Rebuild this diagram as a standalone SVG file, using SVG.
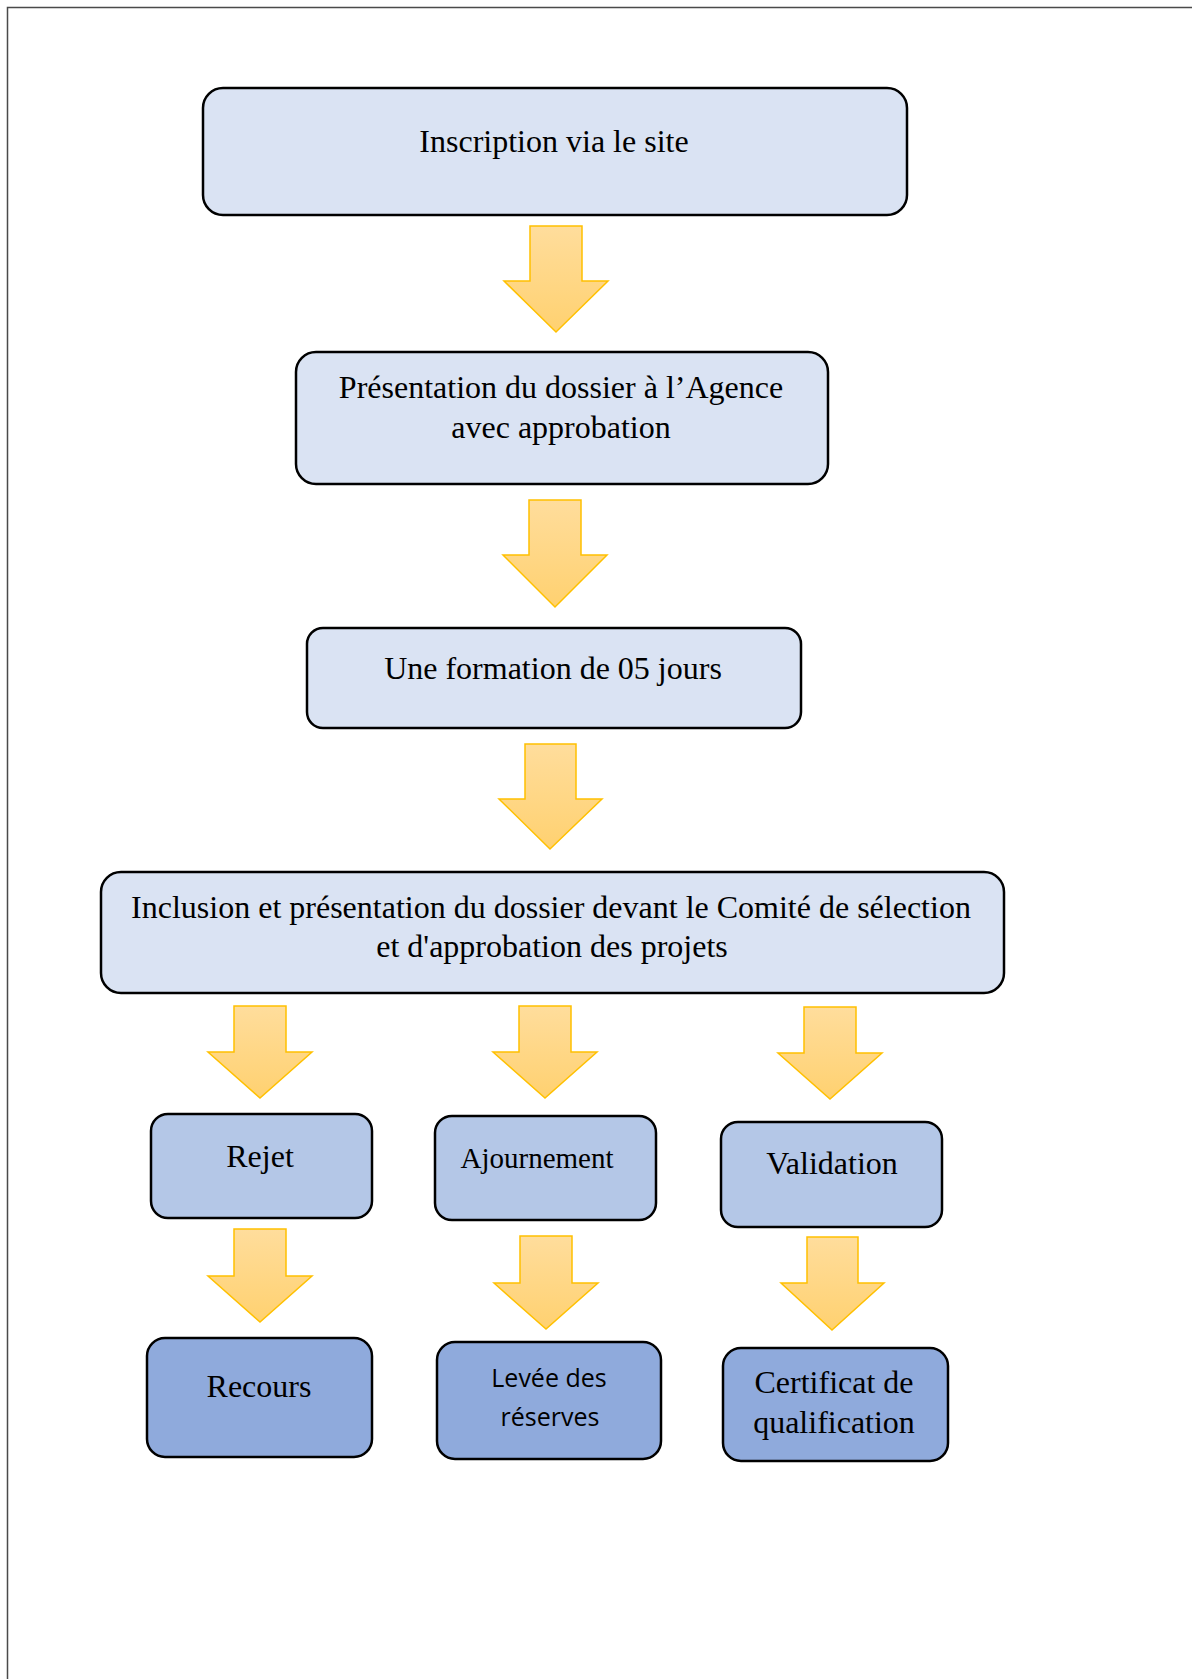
<svg xmlns="http://www.w3.org/2000/svg" width="1192" height="1679" viewBox="0 0 1192 1679">
<defs>
<linearGradient id="ag" x1="0" y1="0" x2="0" y2="1">
<stop offset="0" stop-color="#FFDD9C"/>
<stop offset="1" stop-color="#FFD170"/>
</linearGradient>
</defs>
<style>
.b{stroke:#000;stroke-width:2.5}
.l{fill:#DAE3F3}
.m{fill:#B4C7E7}
.d{fill:#8FAADC}
.t{font-family:"Liberation Serif","Times New Roman",serif;font-size:32px;fill:#000;text-anchor:middle}
.s{font-family:"Open Sans","Liberation Sans",sans-serif;font-size:25px;fill:#000;text-anchor:middle}
.a{fill:url(#ag);stroke:#FFC000;stroke-width:1.5;stroke-linejoin:miter}
.frame{stroke:#4a4a4a;stroke-width:1.5;fill:none}
</style>
<rect width="1192" height="1679" fill="#fff"/>
<path class="frame" d="M7.5,1679 V7.5 H1192"/>

<g id="n1"><rect class="b l" x="203" y="88" width="704" height="127" rx="20"/><text class="t" x="554" y="152">Inscription via le site</text></g>
<g id="n2"><rect class="b l" x="296" y="352" width="532" height="132" rx="20"/><text class="t" x="561" y="398">Présentation du dossier à l’Agence</text><text class="t" x="561" y="438">avec approbation</text></g>
<g id="n3"><rect class="b l" x="307" y="628" width="494" height="100" rx="16"/><text class="t" x="553" y="679">Une formation de 05 jours</text></g>
<g id="n4"><rect class="b l" x="101" y="872" width="903" height="121" rx="20"/><text class="t" x="551" y="918">Inclusion et présentation du dossier devant le Comité de sélection</text><text class="t" x="552" y="957">et d'approbation des projets</text></g>
<g id="n5"><rect class="b m" x="151" y="1114" width="221" height="104" rx="17"/><text class="t" x="260" y="1167">Rejet</text></g>
<g id="n6"><rect class="b m" x="435" y="1116" width="221" height="104" rx="17"/><text class="t" x="537" y="1168" style="font-size:29px">Ajournement</text></g>
<g id="n7"><rect class="b m" x="721" y="1122" width="221" height="105" rx="17"/><text class="t" x="832" y="1174">Validation</text></g>
<g id="n8"><rect class="b d" x="147" y="1338" width="225" height="119" rx="18"/><text class="t" x="259" y="1397">Recours</text></g>
<g id="n9"><rect class="b d" x="437" y="1342" width="224" height="117" rx="18"/><text class="s" x="549" y="1387">Levée des</text><text class="s" x="550" y="1426">réserves</text></g>
<g id="n10"><rect class="b d" x="723" y="1348" width="225" height="113" rx="18"/><text class="t" x="834" y="1393">Certificat de</text><text class="t" x="834" y="1433">qualification</text></g>

<g id="connectors">
<path class="a" d="M530,226 H582 V281 H608 L556,332 L504,281 H530 Z"/>
<path class="a" d="M529,500 H581 V555 H607 L555,607 L503,555 H529 Z"/>
<path class="a" d="M525,744 H576 V799 H602 L550,849 L499,799 H525 Z"/>
<path class="a" d="M234,1006 H286 V1052 H312 L260,1098 L208,1052 H234 Z"/>
<path class="a" d="M519,1006 H571 V1052 H597 L545,1098 L493,1052 H519 Z"/>
<path class="a" d="M804,1007 H856 V1053 H882 L830,1099 L778,1053 H804 Z"/>
<path class="a" d="M234,1229 H286 V1276 H312 L260,1322 L208,1276 H234 Z"/>
<path class="a" d="M520,1236 H572 V1283 H598 L546,1329 L494,1283 H520 Z"/>
<path class="a" d="M807,1237 H858 V1283 H884 L832,1330 L781,1283 H807 Z"/>
</g>
</svg>
